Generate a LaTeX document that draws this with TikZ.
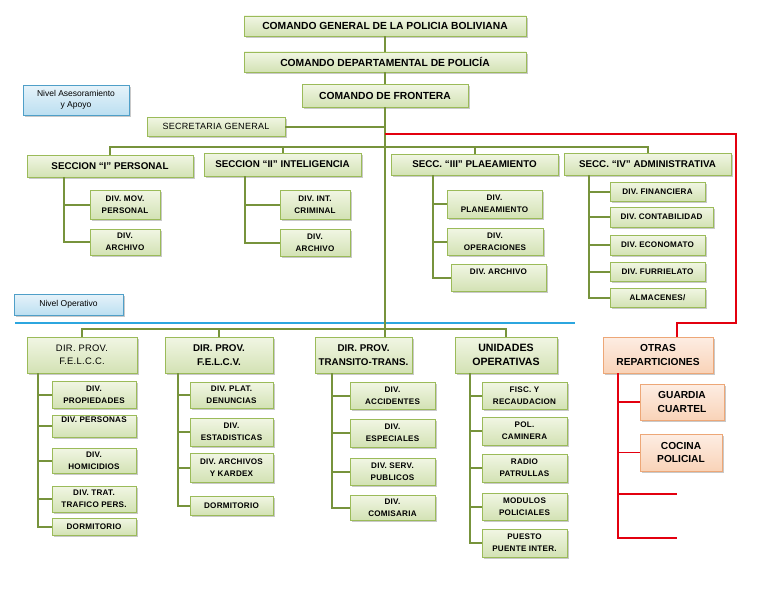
\documentclass[tikz,border=0pt]{standalone}
\usepackage{fontspec}
\setmainfont{Liberation Sans}
\newfontfamily\lsfont[LetterSpace=3]{Liberation Sans}
\newfontfamily\lsb[LetterSpace=3]{Liberation Sans Bold}
\usetikzlibrary{shadows}
\definecolor{gtop}{HTML}{F1F6E4}
\definecolor{gbot}{HTML}{D3E2B4}
\definecolor{gborder}{HTML}{9BBB59}
\definecolor{connc}{HTML}{77933C}
\definecolor{btop}{HTML}{E6F3FA}
\definecolor{bbot}{HTML}{BCDFF1}
\definecolor{bborder}{HTML}{4F9FC8}
\definecolor{bluel}{HTML}{2CA6DF}
\definecolor{otop}{HTML}{FDEDE3}
\definecolor{obot}{HTML}{F9D3B8}
\definecolor{oborder}{HTML}{EDA777}
\definecolor{redc}{HTML}{E3000F}
\begin{document}
\begin{tikzpicture}[x=1pt,y=-1pt,
  base/.style={inner sep=0pt, align=center, line width=0.9pt,
    drop shadow={shadow xshift=1.6pt,shadow yshift=-1.6pt,opacity=0.3,fill=black!70}},
  sz/.style 2 args={minimum width=#1, minimum height=#2},
  gbox/.style={base, draw=gborder, top color=gtop, bottom color=gbot},
  bbox/.style={base, draw=bborder, top color=btop, bottom color=bbot,
    font=\fontsize{8.5}{11}\selectfont},
  obox/.style={base, draw=oborder, top color=otop, bottom color=obot,
    font=\fontsize{10.2}{13.5}\selectfont\bfseries, text=black},
  topf/.style={font=\fontsize{10.3}{12}\selectfont\bfseries},
  secf/.style={font=\fontsize{9.8}{12}\selectfont\bfseries},
  hdf/.style={font=\fontsize{9.8}{13.5}\selectfont\bfseries},
  hdsf/.style={font=\fontsize{10.6}{13.5}\selectfont\bfseries},
  divf/.style={font=\lsb\fontsize{8.1}{12}\selectfont},
  conn/.style={draw=connc, line width=2pt},
  redl/.style={draw=redc, line width=1.6pt},
  sepl/.style={draw=bluel, line width=2pt}]
\useasboundingbox (0,0) rectangle (768,594);

% top
\node[gbox,topf,sz={282}{20}] (b1) at (385,26) {COMANDO GENERAL DE LA POLICIA BOLIVIANA};
\node[gbox,topf,sz={282}{20}] (b2) at (385,62) {COMANDO DEPARTAMENTAL DE POLICÍA};
\node[gbox,topf,sz={166}{23}] (b3) at (385,95.5) {COMANDO DE FRONTERA};
\node[bbox,sz={106}{30}] (na) at (76,100) {Nivel Asesoramiento\\y Apoyo};
\node[gbox,font=\lsfont\fontsize{9}{11}\selectfont,sz={138}{19}] (sec) at (216,126.5) {SECRETARIA GENERAL};

% sections
\node[gbox,secf,sz={166}{22}] (s1) at (110,166) {SECCION “I” PERSONAL};
\node[gbox,secf,sz={157}{23}] (s2) at (282.5,164.5) {SECCION “II” INTELIGENCIA};
\node[gbox,secf,sz={167}{21}] (s3) at (474.5,164.5) {SECC. “III” PLAEAMIENTO};
\node[gbox,secf,sz={167}{22}] (s4) at (647.5,164) {SECC. “IV” ADMINISTRATIVA};

\node[gbox,divf,sz={70}{29}] (d11) at (125,204.5) {DIV. MOV.\\PERSONAL};
\node[gbox,divf,sz={70}{26}] (d12) at (125,242) {DIV.\\ARCHIVO};
\node[gbox,divf,sz={70}{29}] (d21) at (315,204.5) {DIV. INT.\\CRIMINAL};
\node[gbox,divf,sz={70}{27}] (d22) at (315,242.5) {DIV.\\ARCHIVO};
\node[gbox,divf,sz={95}{28}] (d31) at (494.5,204) {DIV.\\PLANEAMIENTO};
\node[gbox,divf,sz={96}{27}] (d32) at (495,241.5) {DIV.\\OPERACIONES};
\node[gbox,divf,sz={95}{27}] (d33) at (498.5,277.5) {DIV. ARCHIVO\\~};
\node[gbox,divf,sz={95}{19}] (d41) at (657.5,191.5) {DIV. FINANCIERA};
\node[gbox,divf,sz={103}{20}] (d42) at (661.5,217) {DIV. CONTABILIDAD};
\node[gbox,divf,sz={95}{20}] (d43) at (657.5,245) {DIV. ECONOMATO};
\node[gbox,divf,sz={95}{19}] (d44) at (657.5,271.5) {DIV. FURRIELATO};
\node[gbox,divf,sz={95}{19}] (d45) at (657.5,297.5) {ALMACENES/};

% operative level
\node[bbox,sz={109}{21}] (no) at (68.5,304.5) {Nivel Operativo};
\coordinate (sepa) at (15,323);
\coordinate (sepb) at (575,323);

\node[gbox,font=\lsfont\fontsize{9.4}{13.5}\selectfont,sz={110}{36}] (fc) at (82,355) {DIR. PROV.\\F.E.L.C.C.};
\node[gbox,hdf,sz={108}{36}] (fv) at (219,355) {DIR. PROV.\\F.E.L.C.V.};
\node[gbox,hdf,sz={97}{36}] (tr) at (363.5,355) {DIR. PROV.\\TRANSITO-TRANS.};
\node[gbox,hdsf,sz={102}{36}] (un) at (506,355) {UNIDADES\\OPERATIVAS};
\node[obox,sz={110}{36}] (ot) at (658,355) {OTRAS\\REPARTICIONES};

\node[gbox,divf,sz={84}{27}] (c1) at (94,394.5) {DIV.\\PROPIEDADES};
\node[gbox,divf,sz={84}{22}] (c2) at (94,426) {DIV. PERSONAS\\~};
\node[gbox,divf,sz={84}{25}] (c3) at (94,460.5) {DIV.\\HOMICIDIOS};
\node[gbox,divf,sz={84}{26}] (c4) at (94,499) {DIV. TRAT.\\TRAFICO PERS.};
\node[gbox,divf,sz={84}{17}] (c5) at (94,526.5) {DORMITORIO};

\node[gbox,divf,sz={83}{26}] (v1) at (231.5,395) {DIV. PLAT.\\DENUNCIAS};
\node[gbox,divf,sz={83}{28}] (v2) at (231.5,432) {DIV.\\ESTADISTICAS};
\node[gbox,divf,sz={83}{29}] (v3) at (231.5,467.5) {DIV. ARCHIVOS\\Y KARDEX};
\node[gbox,divf,sz={83}{19}] (v4) at (231.5,505.5) {DORMITORIO};

\node[gbox,divf,sz={85}{27}] (t1) at (392.5,395.5) {DIV.\\ACCIDENTES};
\node[gbox,divf,sz={85}{28}] (t2) at (392.5,433) {DIV.\\ESPECIALES};
\node[gbox,divf,sz={85}{27}] (t3) at (392.5,471.5) {DIV. SERV.\\PUBLICOS};
\node[gbox,divf,sz={85}{25}] (t4) at (392.5,507.5) {DIV.\\COMISARIA};

\node[gbox,divf,sz={85}{27}] (u1) at (524.5,395.5) {FISC. Y\\RECAUDACION};
\node[gbox,divf,sz={85}{28}] (u2) at (524.5,431) {POL.\\CAMINERA};
\node[gbox,divf,sz={85}{28}] (u3) at (524.5,468) {RADIO\\PATRULLAS};
\node[gbox,divf,sz={85}{27}] (u4) at (524.5,506.5) {MODULOS\\POLICIALES};
\node[gbox,divf,sz={85}{28}] (u5) at (524.5,543) {PUESTO\\PUENTE INTER.};

\node[obox,sz={84}{36}] (g1) at (682,402) {GUARDIA\\CUARTEL};
\node[obox,sz={82}{37}] (g2) at (681,452.5) {COCINA\\POLICIAL};

% separator
\draw[sepl] (sepa) -- (sepb);

% trunk
\draw[conn] (b1.south) -- (b2.north);
\draw[conn] (b2.south) -- (b3.north);
\draw[conn] (b3.south) -- (b3.south |- tr.north);
\draw[conn] (sec.east) -- (sec.east -| b3.south);

% section bus
\coordinate (sbus) at (0,147);
\draw[conn] (s1.north) -- (s1.north |- sbus) -- (s4.north |- sbus) -- (s4.north);
\draw[conn] (s2.north) -- (s2.north |- sbus);
\draw[conn] (s3.north) -- (s3.north |- sbus);

% operative bus
\coordinate (obus) at (0,329);
\draw[conn] (fc.north) -- (fc.north |- obus) -- (un.north |- obus) -- (un.north);
\draw[conn] (fv.north) -- (fv.north |- obus);

% spines
\coordinate (x1) at (64,0);
\coordinate (x2) at (245,0);
\coordinate (x3) at (433,0);
\coordinate (x4) at (589,0);
\coordinate (x5) at (38,0);
\coordinate (x6) at (178,0);
\coordinate (x7) at (332,0);
\coordinate (x8) at (470,0);
\coordinate (x9) at (618,0);
\foreach \c in {d11,d12} \draw[conn] (x1 |- s1.south) |- (\c.west);
\foreach \c in {d21,d22} \draw[conn] (x2 |- s2.south) |- (\c.west);
\foreach \c in {d31,d32,d33} \draw[conn] (x3 |- s3.south) |- (\c.west);
\foreach \c in {d41,d42,d43,d44,d45} \draw[conn] (x4 |- s4.south) |- (\c.west);
\foreach \c in {c1,c2,c3,c4,c5} \draw[conn] (x5 |- fc.south) |- (\c.west);
\foreach \c in {v1,v2,v3,v4} \draw[conn] (x6 |- fv.south) |- (\c.west);
\foreach \c in {t1,t2,t3,t4} \draw[conn] (x7 |- tr.south) |- (\c.west);
\foreach \c in {u1,u2,u3,u4,u5} \draw[conn] (x8 |- un.south) |- (\c.west);

% red
\coordinate (ra) at (385,134);
\coordinate (rb) at (736,134);
\coordinate (rc) at (736,323);
\coordinate (rd) at (677,0);
\draw[redl] (ra) -- (rb) -- (rc) -| (rd |- ot.north);
\coordinate (e1) at (677,494);
\coordinate (e2) at (677,538);
\foreach \c in {g1,g2} \draw[redl] (x9 |- ot.south) |- (\c.west);
\draw[redl] (x9 |- ot.south) |- (e2);
\draw[redl] (x9 |- e1) -- (e1);
\end{tikzpicture}
\end{document}
